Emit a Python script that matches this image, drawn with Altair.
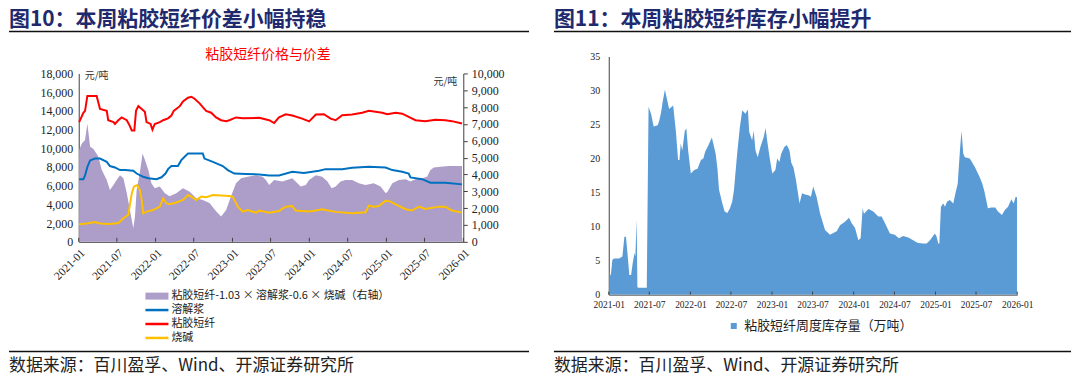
import altair as alt
import pandas as pd

# ---------------- Figure 10 data (yuan/ton) ----------------
viscose_dates = ["2021-01-03","2021-01-23","2021-01-31","2021-02-11","2021-03-27","2021-04-12","2021-05-14","2021-05-21",
                 "2021-06-15","2021-06-22","2021-07-08","2021-07-24","2021-08-17","2021-08-29","2021-09-10","2021-09-22",
                 "2021-09-30","2021-10-11","2021-10-27","2021-11-11","2021-11-19","2021-12-08","2021-12-17","2021-12-28",
                 "2022-01-21","2022-02-06","2022-03-01","2022-03-17","2022-03-28","2022-04-26","2022-05-11","2022-06-04",
                 "2022-06-20","2022-07-05","2022-07-29","2022-08-13","2022-08-29","2022-09-22","2022-10-15","2022-11-08",
                 "2022-12-02","2022-12-17","2023-01-18","2023-02-19","2023-05-08","2023-06-24","2023-07-18","2023-08-10",
                 "2023-09-11","2023-10-12","2023-11-28","2023-12-31","2024-02-01","2024-03-10","2024-04-11","2024-05-05",
                 "2024-06-05","2024-07-22","2024-09-08","2024-10-10","2024-12-12","2025-01-05","2025-02-14","2025-03-17",
                 "2025-04-17","2025-05-19","2025-07-05","2025-08-22","2025-10-08","2025-11-08","2025-12-26"]
viscose_vals = [12800,13800,14000,15600,15600,14200,14000,13000,
                12800,12600,13000,13300,13000,12500,11900,11900,
                14000,14500,14200,13900,12800,12600,12000,12600,
                12800,13000,13200,13500,14000,14500,15000,15400,
                15500,15300,14800,14400,14000,13800,13300,13000,
                12900,13000,13300,13200,13250,13000,12700,13300,
                13630,13500,13170,12870,13600,13640,13170,13000,
                13530,13600,13800,14000,13800,13640,13800,13700,
                13350,13000,12900,13050,13000,12900,12640]

pulp_dates = ["2021-01-03","2021-01-23","2021-01-31","2021-02-11","2021-02-24","2021-03-19","2021-04-12","2021-05-14",
              "2021-05-29","2021-06-22","2021-07-16","2021-08-09","2021-09-17","2021-10-03","2021-11-03","2021-11-27",
              "2022-01-05","2022-01-29","2022-02-17","2022-03-01","2022-03-17","2022-04-17","2022-05-03","2022-05-19",
              "2022-06-04","2022-08-13","2022-08-21","2022-09-30","2022-11-16","2022-12-10","2023-01-10","2023-03-06",
              "2023-05-08","2023-06-24","2023-08-10","2023-10-12","2023-12-06","2024-02-16","2024-03-18","2024-06-05",
              "2024-07-22","2024-10-10","2024-12-28","2025-01-29","2025-03-17","2025-04-17","2025-04-25","2025-06-19",
              "2025-07-29","2025-10-08","2025-12-26"]
pulp_vals = [6700,6700,7100,8000,8700,8900,8900,8550,
             8100,7950,7670,7670,7600,7300,6950,6800,
             6700,6900,7300,7770,8100,8100,8730,9090,
             9450,9450,8900,8550,8100,7670,7300,7250,
             7200,7100,7100,7490,7370,7600,7770,7770,
             7920,8020,7950,7670,7490,7300,6890,6700,
             6320,6320,6140]

soda_dates = ["2021-01-03","2021-02-08","2021-03-19","2021-04-12","2021-05-29","2021-07-08","2021-08-01","2021-08-24",
              "2021-09-10","2021-09-20","2021-10-06","2021-10-18","2021-10-27","2021-11-03","2021-11-19","2021-12-20",
              "2022-01-21","2022-02-06","2022-02-21","2022-03-08","2022-04-09","2022-05-11","2022-06-04","2022-06-20",
              "2022-07-13","2022-08-06","2022-08-29","2022-09-30","2022-12-17","2023-01-02","2023-01-26","2023-02-19",
              "2023-03-14","2023-04-23","2023-05-08","2023-06-24","2023-08-10","2023-09-11","2023-10-12","2023-10-28",
              "2023-12-31","2024-02-01","2024-03-02","2024-03-18","2024-05-05","2024-07-22","2024-09-24","2024-10-10",
              "2024-11-02","2024-11-26","2024-12-28","2025-01-21","2025-02-14","2025-04-02","2025-05-03","2025-06-04",
              "2025-07-05","2025-09-07","2025-10-08","2025-11-08","2025-12-26"]
soda_vals = [1880,1950,2120,1950,1900,2000,2520,2880,
             5190,5900,6070,5540,4470,3050,3230,3400,
             3760,4650,4120,4010,4200,4470,5000,4830,
             4470,4830,4760,5000,4900,4830,3760,3230,
             3400,3120,3340,3120,3300,3760,3830,3340,
             3230,3340,3480,3400,3200,3050,3160,3870,
             3760,3830,4400,4300,4010,3480,3340,3760,
             3520,3760,3760,3340,3120]

spread_dates = ["2021-01-03","2021-01-16","2021-01-31","2021-02-11","2021-02-24","2021-03-11","2021-04-04","2021-04-20",
                "2021-05-14","2021-05-29","2021-06-15","2021-06-30","2021-07-16","2021-08-01","2021-08-17","2021-09-01",
                "2021-09-17","2021-09-25","2021-10-03","2021-10-18","2021-10-31","2021-11-11","2021-11-27","2021-12-12",
                "2021-12-28","2022-01-21","2022-02-14","2022-03-08","2022-04-09","2022-05-11","2022-06-12","2022-07-13",
                "2022-08-13","2022-09-14","2022-10-15","2022-11-08","2022-12-02","2022-12-25","2023-01-18","2023-02-11",
                "2023-03-14","2023-04-23","2023-05-24","2023-06-09","2023-06-24","2023-07-18","2023-08-26","2023-10-12",
                "2023-11-21","2023-12-15","2023-12-31","2024-02-01","2024-03-02","2024-03-27","2024-04-16","2024-05-05",
                "2024-05-28","2024-06-21","2024-07-22","2024-08-23","2024-09-24","2024-11-02","2024-12-04","2024-12-28",
                "2025-01-05","2025-01-29","2025-03-01","2025-04-02","2025-04-25","2025-05-19","2025-06-19","2025-07-13",
                "2025-07-29","2025-08-14","2025-09-15","2025-10-24","2025-12-26"]
spread_vals = [5450,5840,6040,7030,5650,5530,5060,4280,
               3670,3080,3380,3670,3950,3770,2900,1890,
               810,1500,3080,4080,5250,4870,4280,3480,
               3180,3280,2890,2700,2890,3180,2980,2590,
               2490,2300,1810,1500,1890,2700,3480,3770,
               3870,3950,3870,3670,3380,3670,3580,3770,
               3280,3380,3670,3950,3870,3580,3180,3280,
               3580,3670,3670,3480,3380,3480,3280,2900,
               2940,3480,3670,3720,3580,3710,3770,3870,
               4260,4420,4460,4500,4500]

# ---------------- Figure 11 data (10k tons) ----------------
inv_dates = ["2021-01-04","2021-01-10","2021-01-17","2021-01-24","2021-02-16","2021-03-03","2021-03-12","2021-03-19",
             "2021-03-27","2021-04-03","2021-04-11","2021-04-18","2021-04-26","2021-04-30","2021-05-06","2021-05-09",
             "2021-05-15","2021-06-20","2021-06-28","2021-07-09","2021-07-21","2021-08-08","2021-08-15","2021-08-23",
             "2021-08-30","2021-09-09","2021-09-18","2021-09-28","2021-10-16","2021-10-28","2021-11-07","2021-11-13",
             "2021-11-19","2021-11-26","2021-12-07","2021-12-14","2021-12-22","2022-01-03","2022-01-18","2022-02-02",
             "2022-02-17","2022-02-28","2022-03-08","2022-03-23","2022-04-07","2022-04-17","2022-04-24","2022-05-02",
             "2022-05-09","2022-05-24","2022-06-03","2022-06-15","2022-06-27","2022-07-07","2022-07-15","2022-07-29",
             "2022-08-10","2022-08-21","2022-09-04","2022-09-15","2022-09-21","2022-10-04","2022-10-11","2022-10-19",
             "2022-10-29","2022-11-10","2022-11-25","2022-12-03","2022-12-10","2022-12-21","2023-01-02","2023-01-16",
             "2023-01-24","2023-02-03","2023-02-11","2023-02-25","2023-03-08","2023-03-20","2023-03-28","2023-04-07",
             "2023-04-18","2023-04-27","2023-05-04","2023-05-15","2023-05-29","2023-06-13","2023-06-24","2023-07-04",
             "2023-07-19","2023-08-04","2023-08-26","2023-09-17","2023-10-17","2023-11-01","2023-11-23","2023-12-11",
             "2023-12-23","2024-01-07","2024-01-22","2024-02-01","2024-02-10","2024-02-16","2024-03-07","2024-03-29",
             "2024-04-20","2024-05-05","2024-05-20","2024-06-11","2024-07-03","2024-07-21","2024-08-09","2024-09-01",
             "2024-09-23","2024-10-08","2024-10-15","2024-11-07","2024-11-22","2024-12-07","2024-12-29","2025-01-06",
             "2025-01-13","2025-01-18","2025-01-25","2025-02-05","2025-02-12","2025-02-22","2025-03-06","2025-03-21",
             "2025-03-31","2025-04-10","2025-04-20","2025-04-27","2025-05-05","2025-05-12","2025-06-03","2025-06-25",
             "2025-07-17","2025-07-29","2025-08-08","2025-08-23","2025-09-07","2025-09-25","2025-10-07","2025-10-25",
             "2025-11-06","2025-11-21","2025-12-06","2025-12-16","2025-12-25","2025-12-31"]
inv_vals = [3.5,2.7,5.1,5.3,5.3,5.6,8.5,8.5,
            5.6,2.9,2.9,4.6,6.1,5.6,11.0,1.1,
            1.0,1.0,27.6,26.6,24.7,24.9,25.6,26.8,
            28.3,30.1,28.8,27.3,27.8,24.1,19.8,19.8,
            22.2,21.2,24.1,24.4,21.2,17.8,18.3,18.5,
            19.8,20.0,21.0,22.0,23.1,21.7,20.7,18.5,
            15.4,13.4,12.2,12.0,12.7,13.7,15.4,20.7,
            24.6,27.1,26.6,27.2,23.9,22.7,24.1,21.2,
            20.2,21.7,23.2,24.5,22.7,20.2,17.8,18.3,
            20.0,19.5,20.7,21.7,22.0,21.2,19.4,18.7,
            16.8,14.9,13.4,14.9,14.7,14.6,14.4,15.9,
            14.4,11.9,9.5,8.8,9.3,10.2,10.7,11.3,
            10.5,9.8,8.0,8.3,12.7,11.9,12.6,12.2,
            11.5,11.5,10.5,9.0,8.8,8.3,8.6,8.4,
            8.0,7.7,7.6,7.5,7.5,8.0,9.0,8.5,
            7.5,7.5,12.9,13.4,12.9,13.7,13.9,13.4,
            14.9,16.3,21.2,24.1,20.7,20.2,20.0,18.8,
            17.3,16.3,15.1,12.7,12.8,12.8,12.2,11.7,
            12.4,12.9,14.0,13.4,14.4,14.3]

tick_months = [(2021, 1), (2021, 7), (2022, 1), (2022, 7), (2023, 1), (2023, 7),
               (2024, 1), (2024, 7), (2025, 1), (2025, 7), (2026, 1)]

left_series = ["溶解浆", "粘胶短纤", "烧碱"]
left_colors = ["#0070C0", "#FF0000", "#FFC000"]
spread_label = "粘胶短纤-1.03 × 溶解浆-0.6 × 烧碱（右轴）"
inv_label = "粘胶短纤周度库存量（万吨）"

title10 = "图10：本周粘胶短纤价差小幅持稳"
title11 = "图11：本周粘胶短纤库存小幅提升"
subtitle10 = "粘胶短纤价格与价差"
unit = "元/吨"
source = "数据来源：百川盈孚、Wind、开源证券研究所"

# ---------------- tables ----------------
lines_df = pd.concat([
    pd.DataFrame({"date": pulp_dates, "v": pulp_vals, "s": left_series[0]}),
    pd.DataFrame({"date": viscose_dates, "v": viscose_vals, "s": left_series[1]}),
    pd.DataFrame({"date": soda_dates, "v": soda_vals, "s": left_series[2]}),
], ignore_index=True)
spread_df = pd.DataFrame({"date": spread_dates, "v": spread_vals, "s": spread_label})
inv_df = pd.DataFrame({"date": inv_dates, "v": inv_vals, "s": inv_label})
ticks_df = pd.DataFrame({"date": [f"{y}-{m:02d}-01" for y, m in tick_months]})

tick_values = [alt.DateTime(year=y, month=m, date=1) for y, m in tick_months]
x_domain = [alt.DateTime(year=2021, month=1, date=1), alt.DateTime(year=2026, month=1, date=1)]

SERIF = "Liberation Serif"
CJK = "Noto Sans CJK SC"
AXC = "#404040"
NAVY = "#1F2A6E"

# both panels share the same group origin (page y = 56)
LW, LH = 386, 186          # left plot: drawn between y=17 and y=186 of the group
LTOP = 17
RW, RH = 410, 239


def text_layer(txt, x, y, **kw):
    return alt.Chart(pd.DataFrame({"t": [txt]})).mark_text(**kw).encode(
        text="t:N", x=alt.value(x), y=alt.value(y))


def hrule(x1, x2, y, w=1.5):
    return alt.Chart(pd.DataFrame({"t": [0]})).mark_rule(color="#111", strokeWidth=w).encode(
        x=alt.value(x1), x2=alt.value(x2), y=alt.value(y))


# ---------------- left panel ----------------
x_left = alt.X("date:T", scale=alt.Scale(domain=x_domain),
               axis=alt.Axis(values=tick_values, format="%Y-%m", labelAngle=-45, labelAlign="right",
                             labelBaseline="top", labelPadding=5, ticks=False, grid=False, title=None,
                             domainColor=AXC, labelFont=SERIF, labelFontSize=11.5, labelColor="#222",
                             labelOverlap=False, labelFlush=False))

area_left = alt.Chart(spread_df).mark_area(opacity=1).encode(
    x=x_left,
    y=alt.Y("v:Q", scale=alt.Scale(domain=[0, 10000], range=[LH, LTOP]),
            axis=alt.Axis(orient="right", values=list(range(0, 10001, 1000)), format=",.0f", grid=False,
                          title=None, domainColor=AXC, tickColor=AXC, tickSize=4, labelPadding=4,
                          labelFont=SERIF, labelFontSize=12, labelColor="#222")),
    fill=alt.Fill("s:N", scale=alt.Scale(domain=[spread_label], range=["#AC9DC9"]),
                  legend=alt.Legend(orient="none", legendX=73, legendY=235, title=None, padding=0,
                                    symbolType="M-3.3,-1H3.3V1H-3.3Z", symbolSize=49, labelOffset=9,
                                    labelFont=CJK, labelFontSize=11, labelColor="#222", labelLimit=400)),
)

lines_left = alt.Chart(lines_df).mark_line(strokeWidth=2).encode(
    x=x_left,
    y=alt.Y("v:Q", scale=alt.Scale(domain=[0, 18000], range=[LH, LTOP]),
            axis=alt.Axis(orient="left", values=list(range(0, 18001, 2000)), format=",.0f", grid=False,
                          title=None, domainColor=AXC, ticks=False, labelPadding=6,
                          labelFont=SERIF, labelFontSize=12, labelColor="#222")),
    stroke=alt.Stroke("s:N", scale=alt.Scale(domain=left_series, range=left_colors),
                      legend=alt.Legend(orient="none", legendX=73, legendY=249, title=None, padding=0,
                                        symbolType="M-3.3,0H3.3", symbolSize=49, symbolStrokeWidth=2.5,
                                        labelOffset=9, rowPadding=2, labelFont=CJK, labelFontSize=11,
                                        labelColor="#222")),
    detail="s:N",
)

ticks_left = alt.Chart(ticks_df).mark_rule(color=AXC).encode(
    x=x_left, y=alt.value(LH - 4), y2=alt.value(LH))

left = alt.layer(
    area_left, lines_left, ticks_left,
    text_layer(title10, -70, -48, align="left", baseline="top", font=CJK, fontWeight="bold",
               fontSize=21, color=NAVY),
    hrule(-70, 452, -25),
    text_layer(subtitle10, 190, -1, align="center", baseline="middle", font=CJK, fontSize=14,
               color="#FF0000"),
    text_layer(unit, 6, 20, align="left", baseline="middle", font=CJK, fontSize=10, color="#333"),
    text_layer(unit, 380, 26, align="right", baseline="middle", font=CJK, fontSize=10, color="#333"),
    hrule(-70, 452, 296),
    text_layer(source, -70, 311, align="left", baseline="middle", font=CJK, fontSize=17, color="#222"),
).resolve_scale(y="independent").properties(width=LW, height=LH)

# ---------------- right panel ----------------
x_right = alt.X("date:T", scale=alt.Scale(domain=x_domain),
                axis=alt.Axis(values=tick_values, format="%Y-%m", labelAngle=0, labelPadding=5,
                              ticks=False, grid=False, title=None, domainColor=AXC, labelFont=SERIF,
                              labelFontSize=9.5, labelColor="#222", labelOverlap=False, labelFlush=False))

area_right = alt.Chart(inv_df).mark_area(opacity=1).encode(
    x=x_right,
    y=alt.Y("v:Q", scale=alt.Scale(domain=[0, 35]),
            axis=alt.Axis(values=list(range(0, 36, 5)), grid=False, title=None, domainColor=AXC,
                          ticks=False, labelPadding=9, labelFont=SERIF, labelFontSize=10,
                          labelColor="#222")),
    fill=alt.Fill("s:N", scale=alt.Scale(domain=[inv_label], range=["#5B9BD5"]),
                  legend=alt.Legend(orient="none", legendX=119, legendY=264, title=None, padding=0,
                                    symbolType="square", symbolSize=36, labelOffset=4,
                                    labelFont=CJK, labelFontSize=13, labelColor="#222", labelLimit=400)),
)

ticks_right = alt.Chart(ticks_df).mark_rule(color=AXC).encode(
    x=x_right, y=alt.value(RH - 3), y2=alt.value(RH))

right = alt.layer(
    area_right, ticks_right,
    text_layer(title11, -55, -48, align="left", baseline="top", font=CJK, fontWeight="bold",
               fontSize=21, color=NAVY),
    hrule(-55, 464, -25),
    hrule(-55, 464, 296),
    text_layer(source, -55, 311, align="left", baseline="middle", font=CJK, fontSize=17, color="#222"),
).properties(width=RW, height=RH)

chart = (alt.hconcat(left, right, spacing=23)
         .resolve_scale(fill="independent", x="independent")
         .resolve_legend(fill="independent")
         .properties(padding=0, background="white")
         .configure_view(stroke=None))

chart.save("out.html", embed_options={"renderer": "svg", "actions": False})
